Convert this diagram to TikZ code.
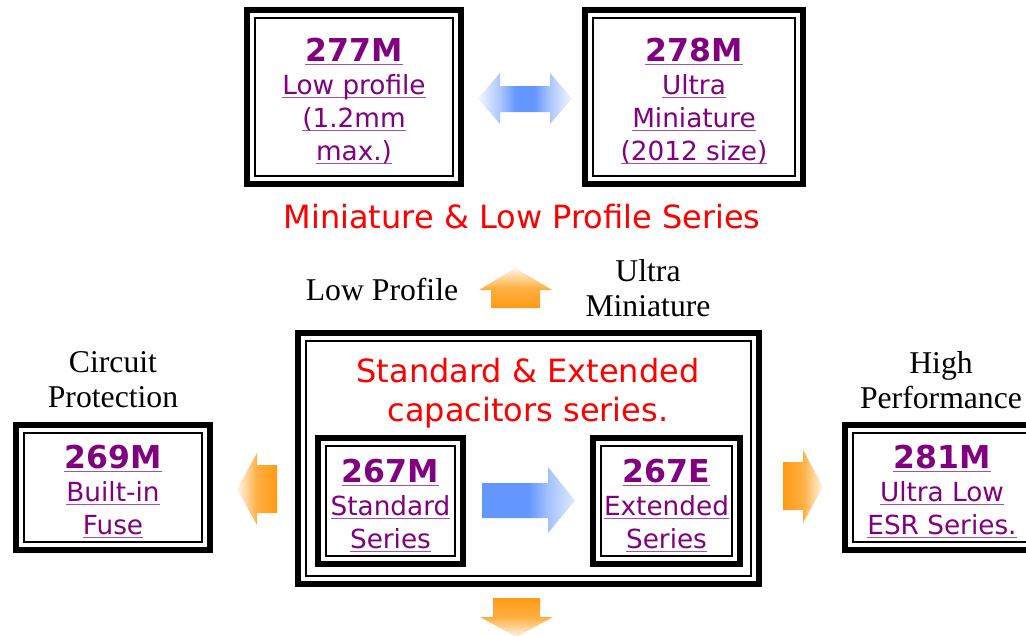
\documentclass[tikz,border=0pt]{standalone}
\usepackage{fontspec}
\setmainfont{Liberation Serif}
\newfontfamily\vsans{DejaVu Sans}
\definecolor{lnk}{RGB}{128,0,128}
\definecolor{ulc}{RGB}{165,80,165}
\definecolor{ttlred}{RGB}{255,0,0}
\definecolor{arrb}{RGB}{100,150,255}
\definecolor{arro}{RGB}{255,155,20}
\pgfdeclarehorizontalshading{dblblue}{100bp}{color(0bp)=(arrb!8!white); color(25bp)=(arrb!8!white); color(37bp)=(arrb!55!white); color(45bp)=(arrb); color(55bp)=(arrb); color(63bp)=(arrb!55!white); color(75bp)=(arrb!8!white); color(100bp)=(arrb!8!white)}
\pgfdeclarehorizontalshading{rblue}{100bp}{color(0bp)=(arrb); color(25bp)=(arrb); color(50bp)=(arrb); color(60bp)=(arrb!60!white); color(75bp)=(arrb!20!white); color(100bp)=(arrb!20!white)}
\pgfdeclarehorizontalshading{ofade}{100bp}{color(0bp)=(arro); color(25bp)=(arro); color(50bp)=(arro!80!white); color(75bp)=(arro!10!white); color(100bp)=(arro!10!white)}
\newsavebox\lkbox
\newcommand\lk[1]{\sbox\lkbox{#1}\rlap{\color{ulc}\rule[-3.5pt]{\wd\lkbox}{1.4pt}}\usebox\lkbox}
\newcommand\innerframe[1]{\draw[thinframe] ([shift={(8,8)}]#1.north west) rectangle ([shift={(-8,-8)}]#1.south east);}
\begin{document}
\begin{tikzpicture}[x=1pt,y=-1pt,
  frame/.style={draw=black, line width=6pt, outer sep=0pt, inner sep=0pt, fill=white},
  thinframe/.style={draw=black, line width=1.8pt},
  linktext/.style={font=\vsans\fontsize{26.3}{33}\selectfont, text=lnk, align=center, inner sep=0pt},
  serif/.style={font=\fontsize{31.7}{35}\selectfont, align=center, inner sep=0pt},
  redtxt/.style={font=\vsans\fontsize{32}{39}\selectfont, text=ttlred, align=center, inner sep=0pt},
]
\useasboundingbox (0,0) rectangle (1026,635);
\clip (0,0) rectangle (1026,635);
\fill[white] (0,0) rectangle (1026,635);

% top boxes
\node[frame, minimum width=214, minimum height=174] (b277) at (354,97) {};
\innerframe{b277}
\node[linktext] (t277) at ([yshift=-4.5pt]b277.center) {{\fontsize{31.5}{33}\selectfont\bfseries\lk{277M}}\\\lk{Low profile}\\\lk{(1.2mm}\\\lk{max.)}};
\node[frame, minimum width=218, minimum height=174] (b278) at (694,97) {};
\innerframe{b278}
\node[linktext] (t278) at ([yshift=-4.5pt]b278.center) {{\fontsize{31.5}{33}\selectfont\bfseries\lk{278M}}\\\lk{Ultra}\\\lk{Miniature}\\\lk{(2012 size)}};

\shade[shading=dblblue] (478,98.5) -- (500,73) -- (500,86) -- (550,86) -- (550,73) -- (572,98.5) -- (550,124) -- (550,112) -- (500,112) -- (500,124) -- cycle;

\node[redtxt] (mls) at (522,217) {Miniature \& Low Profile Series};

% labels
\node[serif] (lp) at (382,289) {Low Profile};
\node[serif] (um) at (648,288.5) {Ultra\\Miniature};
\node[serif] (cp) at (113,380) {Circuit\\Protection};
\node[serif] (hp) at (941,380) {High\\Performance};

\shade[shading=ofade, shading angle=90] (491,308) -- (491,290) -- (479,290) -- (515.5,268) -- (552,290) -- (540,290) -- (540,308) -- cycle;

% big box
\node[frame, minimum width=461, minimum height=251] (big) at (528.5,458.5) {};
\innerframe{big}
\node[redtxt] (stdttl) at (528,393) {Standard \& Extended\\capacitors series.};

\node[frame, minimum width=145, minimum height=126] (b267M) at (390.5,501) {};
\innerframe{b267M}
\node[linktext] (t267M) at ([yshift=-4.5pt]b267M.center) {{\fontsize{31.5}{33}\selectfont\bfseries\lk{267M}}\\\lk{Standard}\\\lk{Series}};
\node[frame, minimum width=147, minimum height=126] (b267E) at (666.5,501) {};
\innerframe{b267E}
\node[linktext] (t267E) at ([yshift=-4.5pt]b267E.center) {{\fontsize{31.5}{33}\selectfont\bfseries\lk{267E}}\\\lk{Extended}\\\lk{Series}};

\shade[shading=rblue] (482,483) -- (548,483) -- (548,467) -- (575,500.5) -- (548,533) -- (548,518) -- (482,518) -- cycle;

% side boxes
\node[frame, minimum width=194, minimum height=125] (b269) at (113,487.5) {};
\innerframe{b269}
\node[linktext] (t269) at ([yshift=-4.5pt]b269.center) {{\fontsize{31.5}{33}\selectfont\bfseries\lk{269M}}\\\lk{Built-in}\\\lk{Fuse}};
\node[frame, minimum width=194, minimum height=125] (b281) at (942,487.5) {};
\innerframe{b281}
\node[linktext] (t281) at ([yshift=-4.5pt]b281.center) {{\fontsize{31.5}{33}\selectfont\bfseries\lk{281M}}\\\lk{Ultra Low}\\\lk{ESR Series.}};

\shade[shading=ofade, shading angle=180] (277,465) -- (257,465) -- (257,453) -- (237,489) -- (257,525) -- (257,513) -- (277,513) -- cycle;
\shade[shading=ofade] (783,462) -- (803,462) -- (803,450) -- (823,486.5) -- (803,523) -- (803,510) -- (783,510) -- cycle;
\shade[shading=ofade, shading angle=-90] (493,598) -- (540,598) -- (540,617) -- (553,617) -- (516.5,637) -- (480,617) -- (493,617) -- cycle;
\end{tikzpicture}
\end{document}
